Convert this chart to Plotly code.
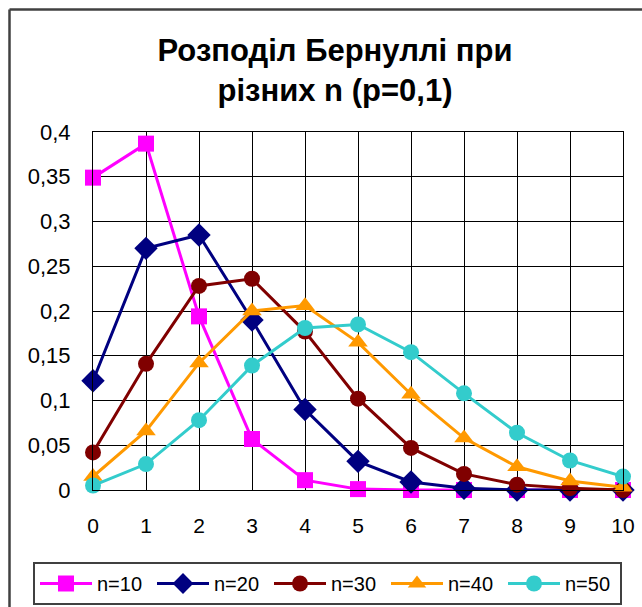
import plotly.graph_objects as go

k_values = [0, 1, 2, 3, 4, 5, 6, 7, 8, 9, 10]
series_names = ["n=10", "n=20", "n=30", "n=40", "n=50"]
p_n10 = [0.349, 0.387, 0.194, 0.057, 0.011, 0.001, 0.000, 0.000, 0.000, 0.000, 0.000]
p_n20 = [0.122, 0.270, 0.285, 0.190, 0.090, 0.032, 0.009, 0.002, 0.000, 0.000, 0.000]
p_n30 = [0.042, 0.141, 0.228, 0.236, 0.177, 0.102, 0.047, 0.018, 0.006, 0.002, 0.000]
p_n40 = [0.015, 0.066, 0.142, 0.200, 0.206, 0.165, 0.107, 0.058, 0.026, 0.010, 0.003]
p_n50 = [0.005, 0.029, 0.078, 0.139, 0.181, 0.185, 0.154, 0.108, 0.064, 0.033, 0.015]
y_tick_vals = [0, 0.05, 0.1, 0.15, 0.2, 0.25, 0.3, 0.35, 0.4]
y_tick_text = ["0", "0,05", "0,1", "0,15", "0,2", "0,25", "0,3", "0,35", "0,4"]

series_values = [p_n10, p_n20, p_n30, p_n40, p_n50]
colors = ["#FF00FF", "#000080", "#800000", "#FF9900", "#33CCCC"]
symbols = ["square", "diamond", "circle", "triangle-up", "circle"]
sizes = [16, 18, 16, 17, 16]

FONT = "Liberation Sans, Arial, sans-serif"

fig = go.Figure()
for name, vals, c, s, sz in zip(series_names, series_values, colors, symbols, sizes):
    fig.add_trace(go.Scatter(
        x=k_values, y=vals, name=name, mode="lines+markers",
        line=dict(color=c, width=3),
        marker=dict(symbol=s, size=sz, color=c, line=dict(width=0)),
        cliponaxis=False,
    ))

W, H = 642, 607
L, R, T, B = 93, 19, 132, 117
pw = W - L - R
ph = H - T - B

def px_x(p):
    return (p - L) / pw

def px_y(p):
    return (H - B - p) / ph

fig.update_layout(
    width=W, height=H,
    margin=dict(l=L, r=R, t=T, b=B, pad=0, autoexpand=False),
    paper_bgcolor="white", plot_bgcolor="white",
    font=dict(family=FONT, size=21, color="black"),
    title=dict(text="<b>Розподіл Бернуллі при<br>різних n (p=0,1)</b>",
               x=335 / W, xref="container", xanchor="center",
               y=1 - 61 / H, yref="container", yanchor="top",
               font=dict(family=FONT, size=31, color="black")),
    xaxis=dict(range=[0, 10], tickvals=k_values, ticktext=[str(k) for k in k_values],
               showgrid=True, gridcolor="black", gridwidth=1,
               showline=True, linecolor="black", linewidth=1, mirror=True,
               ticks="", ticklabelstandoff=17, zeroline=False),
    yaxis=dict(range=[0, 0.4], tickvals=y_tick_vals, ticktext=y_tick_text,
               showgrid=True, gridcolor="black", gridwidth=1,
               showline=True, linecolor="black", linewidth=1, mirror=True,
               ticks="", ticklabelstandoff=17, zeroline=False,
               tickfont=dict(family=FONT, size=22, color="black")),
    legend=dict(orientation="h", x=px_x(33), xanchor="left", y=px_y(605), yanchor="bottom",
                bordercolor="#404040", borderwidth=2, bgcolor="white",
                font=dict(family=FONT, size=20, color="black"),
                entrywidth=50, entrywidthmode="pixels", itemwidth=52,
                tracegroupgap=0),
    showlegend=True,
)

# outer chart border (top and left visible; right/bottom clipped in the original)
fig.add_shape(type="line", xref="paper", yref="paper",
              x0=px_x(9.5), x1=px_x(700), y0=px_y(9.5), y1=px_y(9.5),
              line=dict(color="#404040", width=2.5))
fig.add_shape(type="line", xref="paper", yref="paper",
              x0=px_x(9.5), x1=px_x(9.5), y0=px_y(9.5), y1=px_y(700),
              line=dict(color="#404040", width=2.5))

fig.write_html("out.html", config={"displayModeBar": False},
               post_script="document.body.style.margin='0px';")
